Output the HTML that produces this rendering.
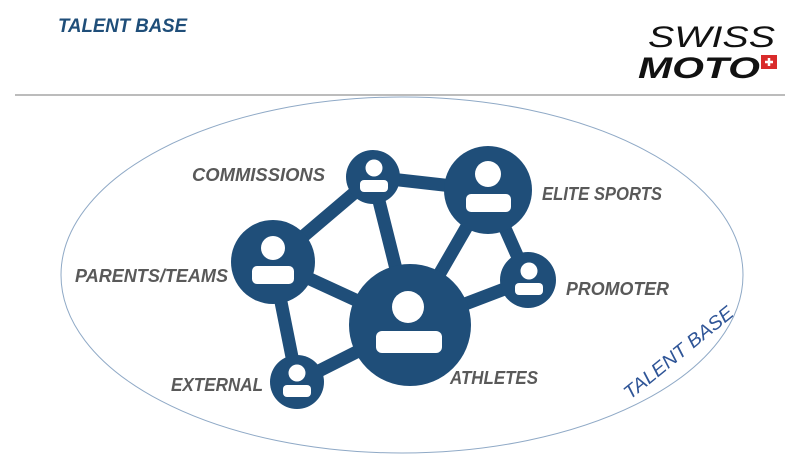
<!DOCTYPE html>
<html><head><style>
body{margin:0;width:800px;height:457px;background:#fff;overflow:hidden;font-family:"Liberation Sans",sans-serif;}
</style></head><body>
<svg width="800" height="457" viewBox="0 0 800 457" xmlns="http://www.w3.org/2000/svg">
<text x="58" y="32" font-family="Liberation Sans" font-size="19" font-weight="bold" font-style="italic" fill="#1f4e79" textLength="129" lengthAdjust="spacingAndGlyphs">TALENT BASE</text>
<text x="648" y="47" font-family="Liberation Sans" font-size="30" font-style="italic" fill="#111" textLength="127" lengthAdjust="spacingAndGlyphs">SWISS</text>
<text x="638" y="78" font-family="Liberation Sans" font-size="30" font-weight="bold" font-style="italic" fill="#111" textLength="122" lengthAdjust="spacingAndGlyphs">MOTO</text>
<rect x="761" y="55" width="16" height="14" fill="#d92b2b"/>
<path d="M769 58v8M765 62h8" stroke="#fff" stroke-width="2.5"/>
<line x1="15" y1="95" x2="785" y2="95" stroke="#a6a6a6" stroke-width="1.5"/>
<ellipse cx="402" cy="275" rx="341" ry="178" fill="none" stroke="#8fa9c6" stroke-width="1"/>
<g stroke="#1f4e79" stroke-width="13" stroke-linecap="round">
<line x1="273" y1="262" x2="373" y2="177"/>
<line x1="373" y1="177" x2="488" y2="190"/>
<line x1="373" y1="177" x2="410" y2="325"/>
<line x1="488" y1="190" x2="410" y2="325"/>
<line x1="488" y1="190" x2="528" y2="280"/>
<line x1="528" y1="280" x2="410" y2="325"/>
<line x1="273" y1="262" x2="410" y2="325"/>
<line x1="273" y1="262" x2="297" y2="382"/>
<line x1="297" y1="382" x2="410" y2="325"/>
</g>
<g fill="#1f4e79">
<circle cx="373" cy="177" r="27"/><circle cx="488" cy="190" r="44"/><circle cx="273" cy="262" r="42"/>
<circle cx="528" cy="280" r="28"/><circle cx="410" cy="325" r="61"/><circle cx="297" cy="382" r="27"/>
</g>
<g fill="#fff">
<circle cx="374" cy="168" r="8.5"/><rect x="360" y="180" width="28" height="12" rx="4"/>
<circle cx="488" cy="174" r="13"/><rect x="466" y="194" width="45" height="18" rx="5"/>
<circle cx="273" cy="248" r="12"/><rect x="252" y="266" width="42" height="18" rx="5"/>
<circle cx="529" cy="271" r="8.5"/><rect x="515" y="283" width="28" height="12" rx="4"/>
<circle cx="408" cy="307" r="16"/><rect x="376" y="331" width="66" height="22" rx="6"/>
<circle cx="297" cy="373" r="8.5"/><rect x="283" y="385" width="28" height="12" rx="4"/>
</g>
<g font-family="Liberation Sans" font-size="18" font-weight="bold" font-style="italic" fill="#595959" lengthAdjust="spacingAndGlyphs">
<text x="192" y="181" textLength="133" lengthAdjust="spacingAndGlyphs">COMMISSIONS</text>
<text x="542" y="200" textLength="120" lengthAdjust="spacingAndGlyphs">ELITE SPORTS</text>
<text x="75" y="282" textLength="153" lengthAdjust="spacingAndGlyphs">PARENTS/TEAMS</text>
<text x="566" y="295" textLength="103" lengthAdjust="spacingAndGlyphs">PROMOTER</text>
<text x="171" y="391" textLength="92" lengthAdjust="spacingAndGlyphs">EXTERNAL</text>
<text x="450" y="384" textLength="88" lengthAdjust="spacingAndGlyphs">ATHLETES</text>
</g>
<text x="0" y="0" transform="translate(630,400) rotate(-39)" font-family="Liberation Sans" font-size="19" font-style="italic" fill="#2f5597" textLength="135" lengthAdjust="spacingAndGlyphs">TALENT BASE</text>
</svg>
</body></html>
